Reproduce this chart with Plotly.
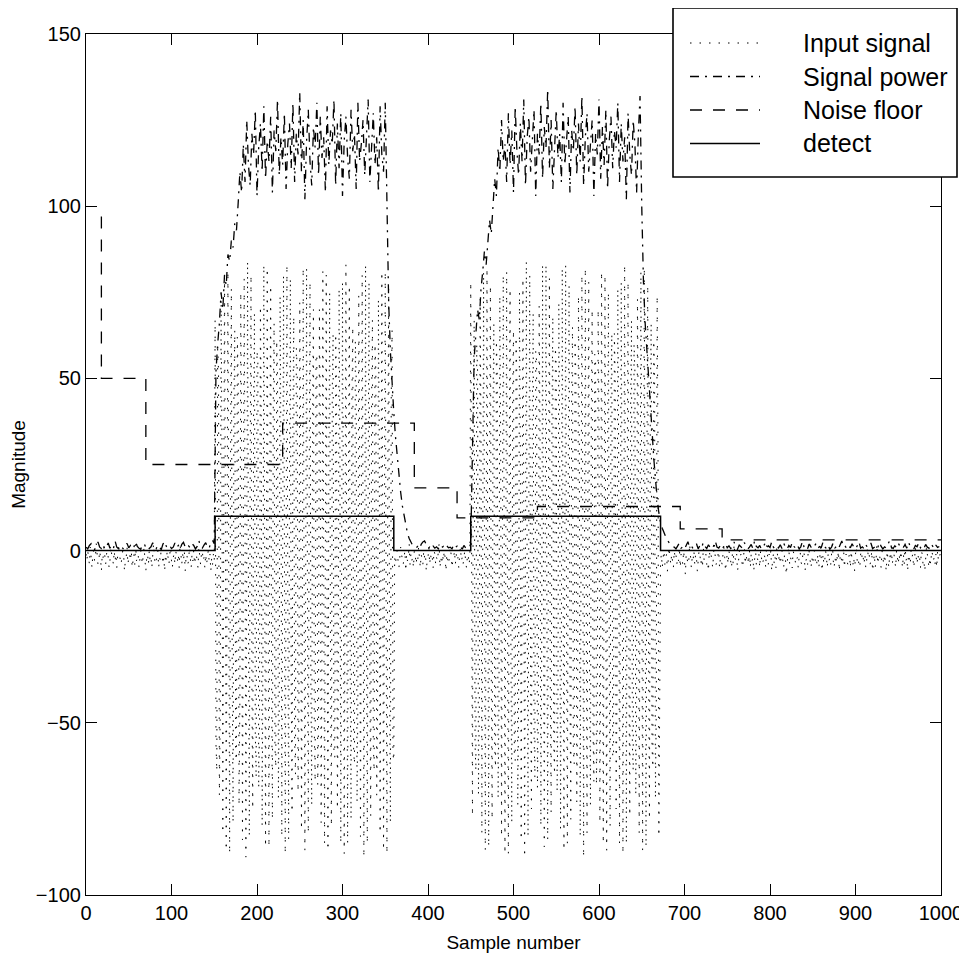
import plotly.graph_objects as go

# ---------------- data ----------------
# Input signal: quiet stretches and two bursts, one value per sample
input_noise_a = [
    -1, -3, 0, -2, -4, 1, -2, -5, -1, 0, -3, -2, 2, -1, -4, -3, 0, -2, -6, -1,
    -2, 1, -3, -4, -1, 0, -2, -5, -3, 1, -1, -2, -4, 0, -3, -1, -5, -2, 2, -1,
    -3, -4, -2, 0, -1, -6, -3, -2, 1, -4, -2, -1, -3, 0, -5, -2, -1, -4, 2, -3,
    -2, -1, -5, -3, 0, -2, -4, -1, 1, -3, -6, -2, -1, -4, 0, -3, -2, -5, -1, 2,
    -2, -4, -3, -1, 0, -5, -2, -3, 1, -1, -4, -2, -6, -1, -3, 0, -2, -4, -1, 1,
    -3, -5, -2, -1, -4, 0, -2, -3, -1, -5, 2, -2, -4, -1, -3, 0, -6, -2, -1, -4,
    -3, 1, -2, -5, -1, -3, 0, -4, -2, -1, -3, -5, 1, -2, -4, -1, 0, -3, -2, -5,
    -1, -4, -2, 0, -3, -1, -6, -2, -4, -1, -3,
]
input_burst_1 = [
    67, -56, -64, 60, 52, -71, -46, 73, 32, -82, -25, 81, 10, -87,
    1, 81, -17, -88, 24, 76, -33, -79, 45, 64, -59, -61, 62, 49, -74, -43, 75, 29, -84, -22, 79, 13, -89,
    -4, 84, -11, -83, 19, 80, -38, -75, 40, 69, -53, -66, 58, 55, -69, -49, 71, 35, -80, -28, 83, 8, -86,
    0, 82, -15, -86, 23, 77, -35, -78, 43, 66, -57, -63, 61, 51, -72, -45, 74, 31, -83, -24, 80, 11, -88,
    -3, 83, -13, -84, 20, 79, -37, -76, 41, 68, -55, -65, 59, 53, -70, -47, 72, 33, -81, -26, 82, 9, -87,
    -5, 82, -10, -82, 18, 78, -39, -74, 39, 70, -52, -67, 57, 56, -68, -50, 70, 36, -79, -29, 81, 7, -85,
    2, 80, -18, -87, 25, 75, -32, -80, 46, 63, -60, -60, 63, 48, -75, -42, 76, 28, -85, -21, 78, 14, -88,
    -1, 83, -16, -85, 22, 77, -34, -78, 44, 65, -58, -62, 61, 50, -73, -44, 74, 30, -83, -23, 80, 12, -89,
    -2, 83, -14, -85, 21, 78, -36, -77, 42, 67, -56, -64, 60, 52, -71, -46, 73, 32, -82, -25, 81, 10, -87,
    1, 81, -17, -88, 24, 76, -33, -79, 45, 64, -59, -61,
]
input_noise_b = [
    -2, -4, -1, 0, -3, -5, -2, 1, -1, -3, -4, -2, 0, -6, -1, -3, -2, 2, -4, -1,
    -3, -2, -5, 0, -1, -4, -2, -3, 1, -2, -5, -1, -3, -4, 0, -2, -1, -6, -3, -2,
    1, -4, -1, -3, -2, -5, 0, -1, -4, -2, -3, -1, 2, -5, -2, -4, -1, -3, 0, -2,
    -6, -1, -3, -4, -2, 1, -1, -5, -3, -2, 0, -4, -1, -3, -2, -5, -1, 1, -3, -2,
    -4, -1, 0, -3, -5, -2, -1, -4, -2,
]
input_burst_2 = [
    78, -36, -77, 42, 67, -56, -64, 60, 52, -71, -46, 73, 32, -82, -25, 81, 10, -87,
    0, 82, -15, -86, 23, 77, -35, -78, 43, 66, -57, -63, 61, 51, -72, -45, 74, 31, -83, -24, 80, 11, -88,
    1, 81, -17, -88, 24, 76, -33, -79, 45, 64, -59, -61, 62, 49, -74, -43, 75, 29, -84, -22, 79, 13, -89,
    -4, 84, -11, -83, 19, 80, -38, -75, 40, 69, -53, -66, 58, 55, -69, -49, 71, 35, -80, -28, 83, 8, -86,
    -3, 83, -13, -84, 20, 79, -37, -76, 41, 68, -55, -65, 59, 53, -70, -47, 72, 33, -81, -26, 82, 9, -87,
    -1, 83, -16, -85, 22, 77, -34, -78, 44, 65, -58, -62, 61, 50, -73, -44, 74, 30, -83, -23, 80, 12, -89,
    -5, 82, -10, -82, 18, 78, -39, -74, 39, 70, -52, -67, 57, 56, -68, -50, 70, 36, -79, -29, 81, 7, -85,
    2, 80, -18, -87, 25, 75, -32, -80, 46, 63, -60, -60, 63, 48, -75, -42, 76, 28, -85, -21, 78, 14, -88,
    -2, 83, -14, -85, 21, 78, -36, -77, 42, 67, -56, -64, 60, 52, -71, -46, 73, 32, -82, -25, 81, 10, -87,
    0, 82, -15, -86, 23, 77, -35, -78, 43, 66, -57, -63, 61, 51, -72, -45, 74, 31, -83, -24,
]
input_noise_c = [
    -3, -1, -5, -2, 0, -4, -2, -1, -6, -3, 1, -2, -4, -1, -3, -5, 0, -2, -1, -4,
    -2, -3, 1, -5, -1, -2, -4, 0, -3, -7, -1, -2, -4, -3, 2, -1, -5, -2, -3, 0,
    -4, -1, -2, -6, -3, 0, -1, -4, -2, -5, 1, -3, -2, -1, -4, -3, -6, 0, -2, -1,
    -3, -5, -1, 2, -2, -4, -3, -1, 0, -5, -2, -3, -4, -1, 1, -2, -6, -3, -1, -4,
    0, -2, -3, -5, -1, -4, 2, -2, -3, -1, -6, -4, 0, -2, -1, -3, -5, -2, 1, -4,
    -1, -3, -2, -4, 0, -5, -1, -3, -2, -6, -1, 1, -4, -2, -3, -1, -5, 0, -2, -4,
    -3, -1, -2, -5, 2, -3, -4, -1, -2, 0, -6, -3, -1, -4, -2, -5, 1, -2, -3, -1,
    -4, -2, 0, -3, -5, -1, -2, -7, -3, -1, 1, -4, -2, -3, -5, 0, -1, -2, -4, -3,
    -2, -5, -1, 1, -3, -4, -2, 0, -1, -6, -3, -2, -4, 2, -1, -3, -5, -2, -4, -1,
    0, -3, -2, -4, -1, -5, -3, 1, -2, -6, -1, -4, -3, 0, -2, -5, -1, -3, -2, -4,
    -1, 2, -3, -5, -2, -4, -1, -3, 0, -6, -2, -1, -4, -3, 1, -5, -2, -1, -3, -4,
    -2, -1, -5, 0, -3, -4, -2, -6, -1, 1, -3, -2, -4, -5, -1, 0, -3, -2, -4, -1,
    -5, -3, 1, -2, -1, -4, -3, 0, -6, -2, -1, -5, -3, 2, -4, -2, -1, -3, -5, 0,
    -2, -4, -1, -3, -6, 0, -2, -5, -1, -3, 1, -4, -2, -1, -3, -5, 0, -2, -4, -1,
    -3, 0, -2, -5, -1, -4, 2, -3, -2, -6, -1, -3, -4, 0, -2, -1, -5, -3, 1, -2,
    -4, -1, -3, -2, -5, 0, -1, -4, -3, -6, -2, 1, -1, -3, -5, -2, -4, 0, -1, -3,
    -2, -4, -1, -5, 0, -3, -2, -1,
]

# Signal power, one value every second sample
power_quiet_a = [
    1, 0.5, 1.5, 2, 0.8, 0.3, 1.2, 2.5, 1, 0.6, 1.8, 0.4, 1.1, 2.2, 0.7, 1.4, 0.5, 2.8, 1, 0.6,
    1.6, 0.9, 0.4, 1.3, 2.1, 0.8, 1.5, 0.5, 1, 2.6, 1.2, 0.7, 0.4, 1.7, 2, 0.9, 1.4, 0.6, 1.1, 2.3,
    0.8, 0.5, 1.6, 1, 0.3, 1.9, 2.7, 1.2, 0.7, 1.4, 0.6, 1, 2.2, 0.9, 1.5, 0.4, 1.8, 2.4, 1.1, 0.6,
    1.3, 0.8, 2, 1.5, 0.5, 1.2, 2.9, 1, 0.7, 1.6, 2.3, 1.1, 0.6, 2.5, 3, 2,
]
power_burst_1 = [
    52, 60, 66, 75, 70, 80, 77, 86, 84, 90, 88, 95, 93, 101, 110, 104, 118, 107, 125, 112,
    106, 121, 115, 128, 103, 117, 124, 110, 129, 108, 119, 113, 126, 104, 122, 116, 131, 109, 120, 112,
    127, 105, 118, 124, 111, 130, 107, 121, 115, 133, 110, 125, 102, 119, 128, 113, 106, 123, 117, 130,
    109, 126, 114, 120, 104, 129, 112, 122, 118, 131, 106, 124, 111, 127, 103, 119, 126, 114, 108, 128,
    116, 121, 105, 130, 113, 118, 125, 109, 122, 131, 107, 117, 127, 112, 120, 104, 129, 115, 110, 130,
]
power_quiet_b = [
    100, 72, 58, 47, 40, 33, 27, 22, 17, 13, 10, 7, 5, 3.5, 2.5, 1.5, 1,
    0.8, 1.2, 0.5, 1.8, 2.5, 2.8, 1.4, 0.6, 1, 0.4, 1.3, 0.7, 1.1, 0.5, 1.6, 0.9,
    1.2, 0.6, 1.4, 0.8, 1, 0.5, 1.7, 0.9, 1.3, 0.6, 1.1, 0.4, 1.5, 0.8, 1, 0.7,
]
power_burst_2 = [
    2, 30, 56, 63, 70, 67, 76, 81, 87, 83, 91, 96, 92, 101, 108, 103, 117, 110, 125, 113,
    118, 107, 127, 112, 122, 104, 129, 116, 109, 124, 113, 131, 106, 120, 126, 110, 119, 128, 103, 121,
    115, 130, 108, 123, 117, 134, 111, 125, 105, 119, 128, 114, 121, 107, 130, 112, 118, 126, 104, 122,
    116, 129, 109, 124, 113, 132, 106, 120, 127, 110, 118, 125, 103, 121, 115, 131, 108, 123, 112, 128,
    105, 119, 126, 111, 122, 117, 130, 107, 124, 113, 120, 102, 127, 115, 109, 125, 118, 104, 121, 132,
]
power_quiet_c = [
    100, 78, 66, 59, 52, 43, 35, 27, 20, 15, 11, 8, 6.5, 5, 4, 3, 2.2, 1.6, 1.2,
    1, 0.5, 1.4, 2.2, 0.7, 1.1, 0.4, 1.8, 2.6, 0.9, 1.3, 0.6, 1, 2, 0.5, 1.5, 0.8, 2.4, 1.2, 0.6,
    1.7, 0.9, 0.4, 1.3, 2.8, 1, 0.7, 1.5, 0.5, 1.2, 2.1, 0.8, 1.4, 0.6, 1, 2.5, 0.9, 0.4, 1.6, 1.1,
    0.7, 2.3, 1.3, 0.5, 1, 1.8, 0.6, 2.9, 1.2, 0.8, 1.5, 0.4, 1.1, 2, 0.7, 1.4, 0.9, 2.6, 1, 0.5,
    1.3, 0.8, 1.7, 0.6, 2.2, 1, 0.4, 1.5, 0.9, 2.4, 1.2, 0.7, 1.6, 0.5, 1.1, 2.7, 0.8, 1.3, 0.6, 1.9,
    1, 0.5, 1.4, 2.1, 0.7, 1.2, 0.9, 2.5, 1.1, 0.6, 1.6, 0.4, 1, 2.3, 0.8, 1.3, 0.5, 1.7, 2.8, 0.9,
    1.2, 0.6, 1.5, 0.8, 2, 1, 0.4, 1.4, 2.6, 0.7, 1.1, 0.5, 1.8, 0.9, 1.3, 2.2, 0.6, 1, 1.6, 0.8,
    2.4, 1.2, 0.5, 1.1, 0.7, 1.9, 2.9, 1, 0.6, 1.4, 0.8, 2.1, 1.3, 0.5, 1, 1.7, 0.7, 2.5, 1.2, 0.9,
    0.4, 1.5, 1.1, 2.3, 0.8, 1.3, 0.6, 1.8, 1, 0.7, 2, 1.4, 0.5, 1.6, 0.9, 1.2,
]
power_step = 2

# Noise floor (step function: sample where each level starts, level)
noise_floor_x = [18, 18, 70, 230, 384, 434, 528, 695, 744, 1000]
noise_floor_y = [97, 50, 25, 37, 18.2, 9.5, 12.8, 6.3, 3.1, 3.1]

# Detect flag (step function)
detect_x = [0, 151, 360, 450, 672, 1000]
detect_y = [0, 10, 0, 10, 0, 0]

x_ticks = [0, 100, 200, 300, 400, 500, 600, 700, 800, 900, 1000]
y_ticks = [-100, -50, 0, 50, 100, 150]

series_names = ["Input signal", "Signal power", "Noise floor", "detect"]

# ---------------- assemble ----------------
input_signal = input_noise_a + input_burst_1 + input_noise_b + input_burst_2 + input_noise_c
input_x = list(range(len(input_signal)))
signal_power = power_quiet_a + power_burst_1 + power_quiet_b + power_burst_2 + power_quiet_c
power_x = list(range(0, power_step * len(signal_power), power_step))

FONT = "Liberation Sans, Arial, sans-serif"
DOT = "1.5px,8px"
DASHDOT = "9px,6px,2px,6px"
DASH = "12px,11px"

fig = go.Figure()
fig.add_trace(go.Scatter(x=input_x, y=input_signal, mode="lines", name=series_names[0],
                         line=dict(color="black", width=1, dash=DOT), showlegend=False))
fig.add_trace(go.Scatter(x=power_x, y=signal_power, mode="lines", name=series_names[1],
                         line=dict(color="black", width=1.3, dash=DASHDOT), showlegend=False))
fig.add_trace(go.Scatter(x=noise_floor_x, y=noise_floor_y, mode="lines", name=series_names[2],
                         line=dict(color="black", width=1.3, dash=DASH, shape="hv"), showlegend=False))
fig.add_trace(go.Scatter(x=detect_x, y=detect_y, mode="lines", name=series_names[3],
                         line=dict(color="black", width=1.5, shape="hv"), showlegend=False))

# page has an 8px body margin: figure 959x954 so the plot box lands at 86..941 x 34..895
OFF = 8
W, H = 959, 954
L, R, T, B = 78, 26, 26, 67
pw, ph = W - L - R, H - T - B


def px(page_x):
    return (page_x - OFF - L) / pw


def py(page_y):
    return (H - B - (page_y - OFF)) / ph


# Legend box drawn as shapes + text (MATLAB style)
shapes = [dict(type="rect", xref="paper", yref="paper",
               x0=px(673), x1=px(957), y0=py(177), y1=py(8),
               fillcolor="white", line=dict(color="black", width=1.6), layer="above")]
annotations = []
row_y = [43, 76.5, 110, 143.5]
dashes = [DOT, DASHDOT, DASH, "solid"]
widths = [1.2, 1.3, 1.3, 1.5]
for name, ry, d, w in zip(series_names, row_y, dashes, widths):
    shapes.append(dict(type="line", xref="paper", yref="paper",
                       x0=px(690), x1=px(760), y0=py(ry), y1=py(ry),
                       line=dict(color="black", width=w, dash=d), layer="above"))
    annotations.append(dict(xref="paper", yref="paper", x=px(801), y=py(ry),
                            xanchor="left", yanchor="middle", text=name, showarrow=False,
                            font=dict(family=FONT, size=25, color="black")))

axis_common = dict(showgrid=False, zeroline=False, showline=True, mirror="ticks",
                   linecolor="black", linewidth=1.2, ticks="inside", ticklen=11,
                   tickwidth=1, tickcolor="black",
                   tickfont=dict(family=FONT, size=20, color="black"))

fig.update_layout(
    width=W, height=H,
    margin=dict(l=L, r=R, t=T, b=B, autoexpand=False),
    paper_bgcolor="white", plot_bgcolor="white",
    font=dict(family=FONT, color="black"),
    xaxis=dict(range=[0, 1000], tickvals=x_ticks, automargin=False,
               title=dict(text="Sample number", font=dict(family=FONT, size=19), standoff=12),
               **axis_common),
    yaxis=dict(range=[-100, 150], tickvals=y_ticks, automargin=False,
               title=dict(text="Magnitude", font=dict(family=FONT, size=19), standoff=12),
               **axis_common),
    shapes=shapes, annotations=annotations, showlegend=False,
)

fig.write_html("out.html")
